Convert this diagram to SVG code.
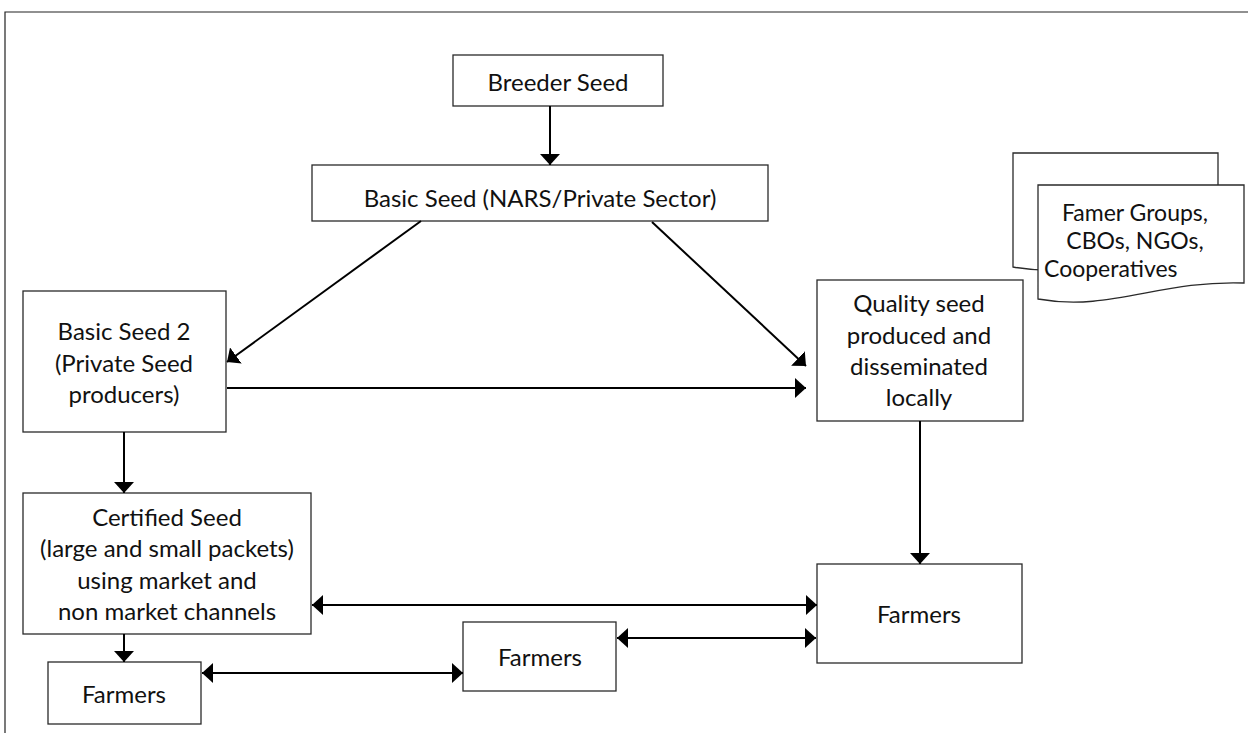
<svg xmlns="http://www.w3.org/2000/svg" width="1248" height="733" viewBox="0 0 1248 733">
<style>
.box{fill:#fff;stroke:#2a2a2a;stroke-width:1.3}
.t{font-family:Lato,"Liberation Sans",sans-serif;font-size:24px;fill:#111;text-anchor:middle}
.d{font-size:23px}
.c{fill:none;stroke:#000;stroke-width:2}
.frame{fill:none;stroke:#222;stroke-width:1.2}
</style>
<defs>
<marker id="ah" markerUnits="userSpaceOnUse" viewBox="0 0 11 20" refX="11" refY="10" markerWidth="11" markerHeight="20" orient="auto-start-reverse">
<path d="M0,0 L11,10 L0,20 Z" fill="#000"/>
</marker>
</defs>
<rect width="1248" height="733" fill="#fff"/>
<path class="frame" d="M5,740 V12 H1250"/>

<g id="breeder">
<rect class="box" x="453" y="55" width="210" height="51"/>
<text class="t" x="558" y="91">Breeder Seed</text>
</g>
<g id="basic">
<rect class="box" x="312" y="165" width="456" height="56"/>
<text class="t" x="540" y="207">Basic Seed (NARS/Private Sector)</text>
</g>
<g id="basic2">
<rect class="box" x="23" y="291" width="203" height="141"/>
<text class="t" x="124" y="340">Basic Seed 2</text>
<text class="t" x="124" y="372">(Private Seed</text>
<text class="t" x="124" y="403">producers)</text>
</g>
<g id="quality">
<rect class="box" x="817" y="280" width="206" height="141"/>
<text class="t" x="919" y="312">Quality seed</text>
<text class="t" x="919" y="344">produced and</text>
<text class="t" x="919" y="375">disseminated</text>
<text class="t" x="919" y="406">locally</text>
</g>
<g id="groups">
<path class="box" d="M1013,153 H1218 V255 C1135,250 1085,280 1013,267 Z"/>
<path class="box" d="M1038,185 H1244 V283 C1160,280 1110,312 1038,299 Z"/>
<text class="t d" x="1135" y="221">Famer Groups,</text>
<text class="t d" x="1135" y="249">CBOs, NGOs,</text>
<text class="t d" x="1044" y="277" style="text-anchor:start">Cooperatives</text>
</g>
<g id="certified">
<rect class="box" x="23" y="493" width="288" height="141"/>
<text class="t" x="167" y="526">Certified Seed</text>
<text class="t" x="167" y="557">(large and small packets)</text>
<text class="t" x="167" y="589">using market and</text>
<text class="t" x="167" y="620">non market channels</text>
</g>
<g id="farmers-right">
<rect class="box" x="817" y="564" width="205" height="99"/>
<text class="t" x="919" y="623">Farmers</text>
</g>
<g id="farmers-mid">
<rect class="box" x="463" y="622" width="153" height="69"/>
<text class="t" x="540" y="666">Farmers</text>
</g>
<g id="farmers-left">
<rect class="box" x="48" y="662" width="153" height="62"/>
<text class="t" x="124" y="703">Farmers</text>
</g>

<g id="connectors">
<line class="c" x1="550" y1="106" x2="550" y2="165" marker-end="url(#ah)"/>
<line class="c" x1="421" y1="221" x2="227" y2="362" marker-end="url(#ah)"/>
<line class="c" x1="652" y1="222" x2="806" y2="366" marker-end="url(#ah)"/>
<line class="c" x1="227" y1="388" x2="806" y2="388" marker-end="url(#ah)"/>
<line class="c" x1="124" y1="432" x2="124" y2="493" marker-end="url(#ah)"/>
<line class="c" x1="124" y1="634" x2="124" y2="662" marker-end="url(#ah)"/>
<line class="c" x1="920" y1="421" x2="920" y2="564" marker-end="url(#ah)"/>
<line class="c" x1="312" y1="605" x2="817" y2="605" marker-start="url(#ah)" marker-end="url(#ah)"/>
<line class="c" x1="202" y1="673" x2="463" y2="673" marker-start="url(#ah)" marker-end="url(#ah)"/>
<line class="c" x1="617" y1="638" x2="816" y2="638" marker-start="url(#ah)" marker-end="url(#ah)"/>
</g>
</svg>
